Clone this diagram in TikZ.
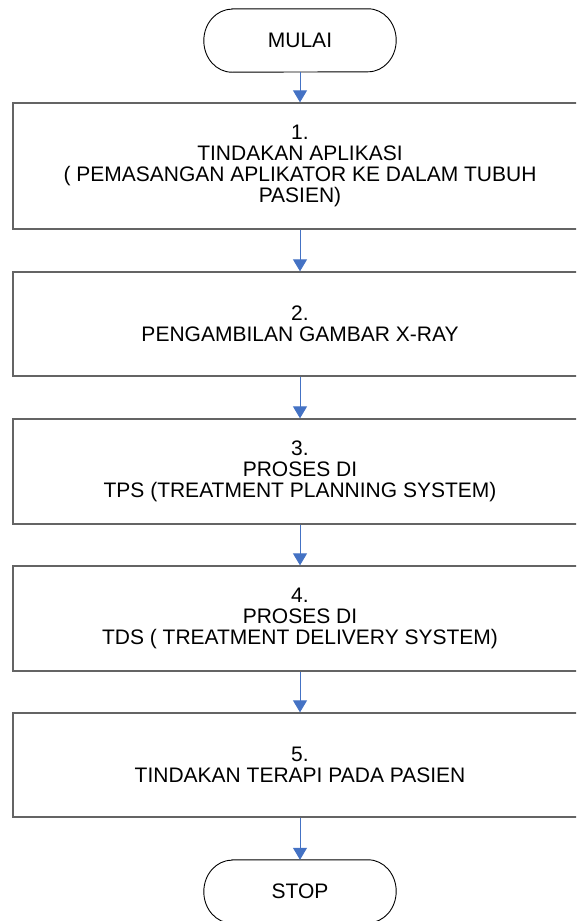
\documentclass[tikz,border=0pt]{standalone}
\usepackage{fontspec}
\setmainfont{Liberation Sans}
\usetikzlibrary{arrows.meta}
\definecolor{panahbiru}{RGB}{68,114,196}
\definecolor{garisabu}{RGB}{100,100,100}
\newcommand{\teks}{\fontsize{21}{21}\selectfont}
\tikzstyle{proses} = [draw=garisabu, line width=1.3pt, minimum width=574pt, align=center, inner sep=0pt, font=\teks]
\tikzstyle{terminal} = [minimum width=192pt, minimum height=63pt, inner sep=0pt, font=\teks]
\tikzstyle{tepi} = [draw=black, line width=0.9pt]
\tikzstyle{panah} = [draw=panahbiru, line width=1pt, -{Triangle[width=14pt,length=12pt]}]

\begin{document}
\begin{tikzpicture}[x=1pt, y=-1pt]
			\useasboundingbox (0,0) rectangle (576,921);
			\clip (0,0) rectangle (576,921);
			\node[terminal] (mulai) at (300, 40.5) {MULAI};
			\node[proses, minimum height=126pt] (p1) at (300, 166) {1.\\TINDAKAN APLIKASI\\( PEMASANGAN APLIKATOR KE DALAM TUBUH\\PASIEN)};
			\node[proses, minimum height=104pt] (p2) at (300, 324) {2.\\PENGAMBILAN GAMBAR X-RAY};
			\node[proses, minimum height=105pt] (p3) at (300, 471.5) {3.\\PROSES DI\\TPS (TREATMENT PLANNING SYSTEM)};
			\node[proses, minimum height=105pt] (p4) at (300, 618.5) {4.\\PROSES DI\\TDS ( TREATMENT DELIVERY SYSTEM)};
			\node[proses, minimum height=104pt] (p5) at (300, 765) {5.\\TINDAKAN TERAPI PADA PASIEN};
			\node[terminal] (stop) at (300, 891.5) {STOP};
			% ujung terminal berbentuk elips
			\foreach \t in {mulai, stop}
				\draw[tepi] ([xshift=28pt]\t.north west) -- ([xshift=-28pt]\t.north east)
					arc[start angle=90, end angle=-90, x radius=28pt, y radius=31.5pt]
					-- ([xshift=28pt]\t.south west)
					arc[start angle=270, end angle=90, x radius=28pt, y radius=31.5pt] -- cycle;
			\draw[panah] (mulai) -- (p1);
			\draw[panah] (p1) -- (p2);
			\draw[panah] (p2) -- (p3);
			\draw[panah] (p3) -- (p4);
			\draw[panah] (p4) -- (p5);
			\draw[panah] (p5) -- (stop);
		\end{tikzpicture}
\end{document}
